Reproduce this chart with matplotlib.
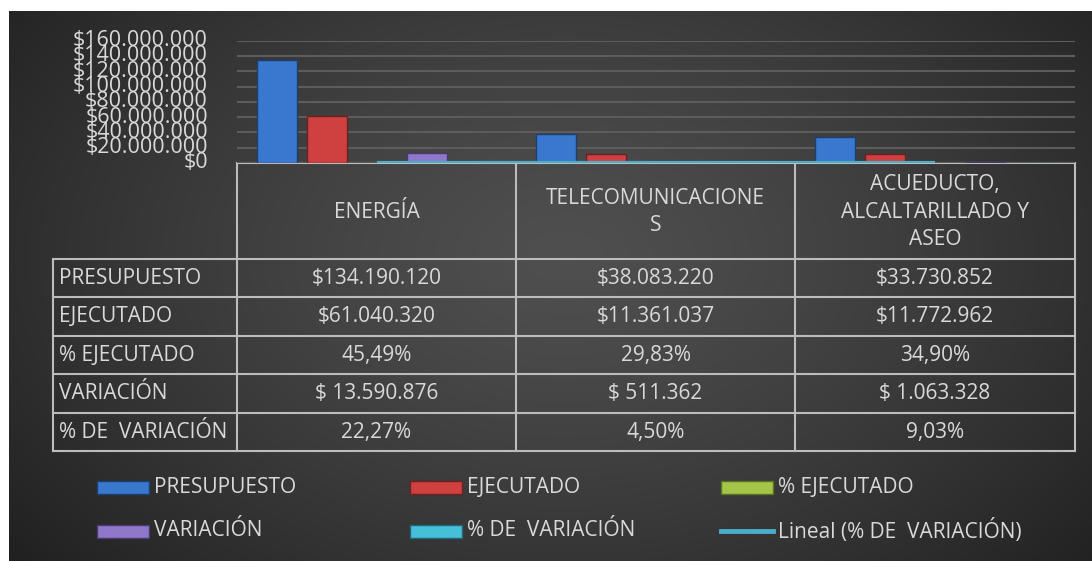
import numpy as np
import matplotlib.pyplot as plt
from matplotlib.patches import Rectangle
from matplotlib.lines import Line2D
from matplotlib.ticker import FuncFormatter

plt.rcParams['font.family'] = ['Open Sans', 'DejaVu Sans']

# datos
categorias = ['ENERGÍA', 'TELECOMUNICACIONE\nS', 'ACUEDUCTO,\nALCALTARILLADO Y\nASEO']
series = ['PRESUPUESTO', 'EJECUTADO', '% EJECUTADO', 'VARIACIÓN', '% DE  VARIACIÓN']
presupuesto = [134190120, 38083220, 33730852]
ejecutado = [61040320, 11361037, 11772962]
pct_ejecutado = [0.4549, 0.2983, 0.3490]
variacion = [13590876, 511362, 1063328]
pct_variacion = [0.2227, 0.0450, 0.0903]
yticks = [0, 20000000, 40000000, 60000000, 80000000, 100000000, 120000000, 140000000, 160000000]

colores = ['#3a78cf', '#cf4040', '#a3c64a', '#9078c8', '#46bfd8']
bordes = ['#1d3f70', '#6e1f1f', '#5a7022', '#4a3a70', '#1f6878']
trend_color = '#4aaec8'
txt = '#d9d9d9'
W, H = 1092, 561
fs = 15

def peso(v, sep=''):
    return '$' + sep + f'{v:,}'.replace(',', '.')

def pct(v):
    return f'{v*100:.2f}%'.replace('.', ',')

filas = [
    [peso(v) for v in presupuesto],
    [peso(v) for v in ejecutado],
    [pct(v) for v in pct_ejecutado],
    [peso(v, ' ') for v in variacion],
    [pct(v) for v in pct_variacion],
]

fig = plt.figure(figsize=(W / 100, H / 100), dpi=100)
fig.patch.set_facecolor('white')

# fondo + tabla en coordenadas de pixel
bg = fig.add_axes([0, 0, 1, 1], zorder=0)
bg.set_xlim(0, W)
bg.set_ylim(H, 0)
bg.axis('off')
yy, xx = np.mgrid[0:H, 0:W]
r = np.sqrt(((xx - 560) / 620.0) ** 2 + ((yy - 250) / 420.0) ** 2)
val = 0.31 - 0.15 * np.clip(r, 0, 1.2) ** 1.3
img = np.dstack([val, val, val])
bg.imshow(img, extent=[9, W, H, 11], aspect='auto', interpolation='bilinear')

# ejes de barras
x0, x1, ybot, ytop = 237, 1075, 163, 40.7
ax = fig.add_axes([x0 / W, 1 - ybot / H, (x1 - x0) / W, (ybot - ytop) / H], zorder=1)
ax.set_facecolor('none')
valores = [presupuesto, ejecutado, pct_ejecutado, variacion, pct_variacion]
x = np.arange(len(categorias))
paso = 50 / 279.0
ancho = 40 / 279.0
for j, vals in enumerate(valores):
    ax.bar(x + (j - 2) * paso, vals, ancho, color=colores[j], edgecolor=bordes[j],
           linewidth=1.0, zorder=3)
coef = np.polyfit(x, pct_variacion, 1)
ax.plot(x, np.polyval(coef, x), color=trend_color, lw=3, zorder=4, solid_capstyle='butt')
ax.set_xlim(-0.5, 2.5)
ax.set_ylim(0, 160000000)
ax.set_yticks(yticks)
ax.yaxis.set_major_formatter(FuncFormatter(lambda v, p: peso(int(v))))
ax.tick_params(axis='y', length=0, labelcolor=txt, labelsize=15.5, pad=21)
ax.set_xticks([])
ax.grid(axis='y', color='#5c5c5c', lw=1.5, zorder=0)
for s in ax.spines.values():
    s.set_visible(False)
for lab in ax.get_yticklabels():
    lab.set_verticalalignment('center')

# tabla de datos
linea = dict(color='#bcbcbc', lw=1.5)
cols = [x0, 516, 795, x1]
izq = 53
filas_y = [259, 297, 336, 374, 413, 451]
bg.plot([x0, x1], [ybot, ybot], **linea)
for cx in cols:
    bg.plot([cx, cx], [ybot, filas_y[-1]], **linea)
bg.plot([izq, izq], [filas_y[0], filas_y[-1]], **linea)
for fy in filas_y:
    bg.plot([izq, x1], [fy, fy], **linea)
for i, c in enumerate(categorias):
    bg.text((cols[i] + cols[i + 1]) / 2, (ybot + filas_y[0]) / 2 + 1, c, color=txt,
            fontsize=fs, ha='center', va='center', linespacing=1.4)
for k, nombre in enumerate(series):
    cy = (filas_y[k] + filas_y[k + 1]) / 2
    bg.text(izq + 6, cy, nombre, color=txt, fontsize=fs, ha='left', va='center')
    for i in range(3):
        bg.text((cols[i] + cols[i + 1]) / 2, cy, filas[k][i], color=txt,
                fontsize=fs, ha='center', va='center')

# leyenda
ley_x = [97, 410, 721]
ley_y = [487, 531]
etiquetas = series + ['Lineal (% DE  VARIACIÓN)']
for k, et in enumerate(etiquetas):
    lx = ley_x[k % 3]
    ly = ley_y[k // 3]
    if k < 5:
        bg.add_patch(Rectangle((lx, ly - 6.5), 52, 13, facecolor=colores[k],
                               edgecolor=bordes[k], lw=1))
    else:
        bg.add_line(Line2D([lx, lx + 52], [ly, ly], color=trend_color, lw=3.5))
    bg.text(lx + 57, ly, et, color=txt, fontsize=fs, ha='left', va='center')

fig.savefig('out.png', dpi=100, facecolor='white')
